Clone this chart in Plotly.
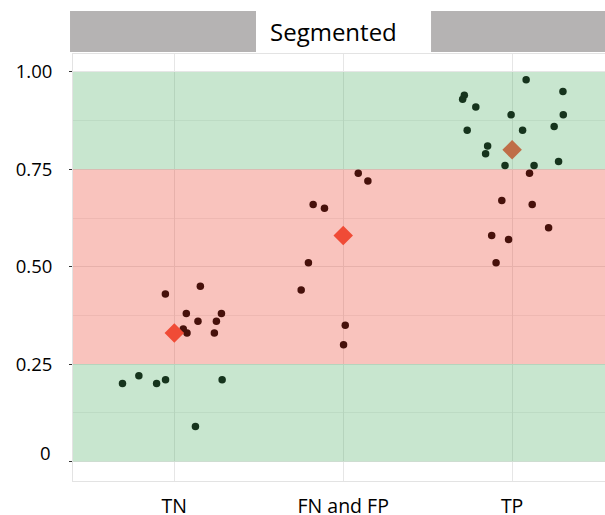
import plotly.graph_objects as go

categories = ["TN", "FN and FP", "TP"]
tn_values = [0.43, 0.45, 0.38, 0.38, 0.36, 0.36, 0.34, 0.33, 0.33, 0.20, 0.22, 0.20, 0.21, 0.21, 0.09]
tn_jitter = [-0.053, 0.154, 0.071, 0.279, 0.14, 0.249, 0.053, 0.075, 0.237, -0.307, -0.21, -0.105, -0.052, 0.283, 0.125]
fnfp_values = [0.74, 0.72, 0.66, 0.65, 0.51, 0.44, 0.35, 0.30]
fnfp_jitter = [0.089, 0.146, -0.178, -0.111, -0.206, -0.249, 0.012, 0.002]
tp_values = [0.98, 0.95, 0.94, 0.93, 0.91, 0.89, 0.89, 0.85, 0.85, 0.86, 0.81, 0.79, 0.76, 0.76, 0.77,
             0.74, 0.67, 0.66, 0.60, 0.58, 0.57, 0.51]
tp_jitter = [0.083, 0.301, -0.283, -0.293, -0.215, -0.006, 0.303, -0.266, 0.062, 0.249, -0.145, -0.157,
             -0.042, 0.130, 0.275, 0.103, -0.061, 0.119, 0.216, -0.121, -0.021, -0.095]
medians = [0.33, 0.58, 0.80]
y_tickvals = [0, 0.25, 0.5, 0.75, 1.0]
y_ticktext = ["0", "0.25", "0.50", "0.75", "1.00"]
bands = [(0.0, 0.25, "green"), (0.25, 0.75, "red"), (0.75, 1.0, "green")]
panel_title = "Segmented"

FONT = "Open Sans"
band_colors = {"green": "rgb(72,172,95)", "red": "rgb(235,55,38)"}

fig = go.Figure()
groups = [tn_values, fnfp_values, tp_values]
jitters = [tn_jitter, fnfp_jitter, tp_jitter]
for i, (vals, jit) in enumerate(zip(groups, jitters)):
    fig.add_trace(go.Scatter(
        x=[i + 1 + j for j in jit], y=vals, mode="markers",
        marker=dict(color="black", size=7.5, line=dict(width=0)),
        showlegend=False, hoverinfo="y"))
fig.add_trace(go.Scatter(
    x=[i + 1 for i in range(len(categories))], y=medians, mode="markers",
    marker=dict(symbol="diamond", color="rgb(242,84,62)", size=15, line=dict(width=0)),
    showlegend=False))

for lo, hi, c in bands:
    fig.add_shape(type="rect", xref="paper", yref="y", x0=0, x1=1, y0=lo, y1=hi,
                  fillcolor=band_colors[c], opacity=0.3, line=dict(width=0), layer="above")

# strip header
for x0, x1 in [(-0.0056, 0.344), (0.673, 1.0)]:
    fig.add_shape(type="rect", xref="paper", yref="paper", x0=x0, x1=x1, y0=1.0047, y1=1.1007,
                  fillcolor="#B5B3B3", line=dict(width=0), layer="above")
fig.add_annotation(text=panel_title, xref="paper", yref="paper", x=0.489, y=1.0527,
                   xanchor="center", yanchor="middle",
                   showarrow=False, font=dict(family=FONT, size=24, color="black"))

# the "0" label sits slightly above its tick in the reference
shown_ticktext = [""] + y_ticktext[1:]
fig.add_annotation(text=y_ticktext[0], xref="paper", yref="y", x=-0.0376, y=y_tickvals[0],
                   xanchor="right", yanchor="middle", yshift=9, showarrow=False,
                   font=dict(family=FONT, size=18.5, color="black"))

fig.update_layout(
    width=605, height=515,
    margin=dict(l=73, r=0, t=54, b=34),
    paper_bgcolor="white", plot_bgcolor="white",
    font=dict(family=FONT, color="black"),
    xaxis=dict(range=[0.4, 3.55], tickvals=[1, 2, 3], ticktext=categories,
               showgrid=True, gridcolor="#E6E6E6", gridwidth=1, zeroline=False,
               showline=True, linecolor="#E3E3E3", mirror=True, ticks="",
               tickfont=dict(size=19.5, family=FONT), ticklabelstandoff=8, automargin=False),
    yaxis=dict(range=[-0.05, 1.046], tickvals=y_tickvals, ticktext=shown_ticktext,
               showgrid=True, gridcolor="#E6E6E6", gridwidth=1, zeroline=False,
               minor=dict(dtick=0.125, tick0=0.125, showgrid=True, gridcolor="#EFEFEF"),
               showline=True, linecolor="#E3E3E3", mirror=True,
               ticks="outside", ticklen=3, tickcolor="#333333",
               tickfont=dict(size=18.5, family=FONT), ticklabelstandoff=13, automargin=False),
)

fig.write_html("out.html", config={"displayModeBar": False},
               post_script="document.body.style.margin='0';")
